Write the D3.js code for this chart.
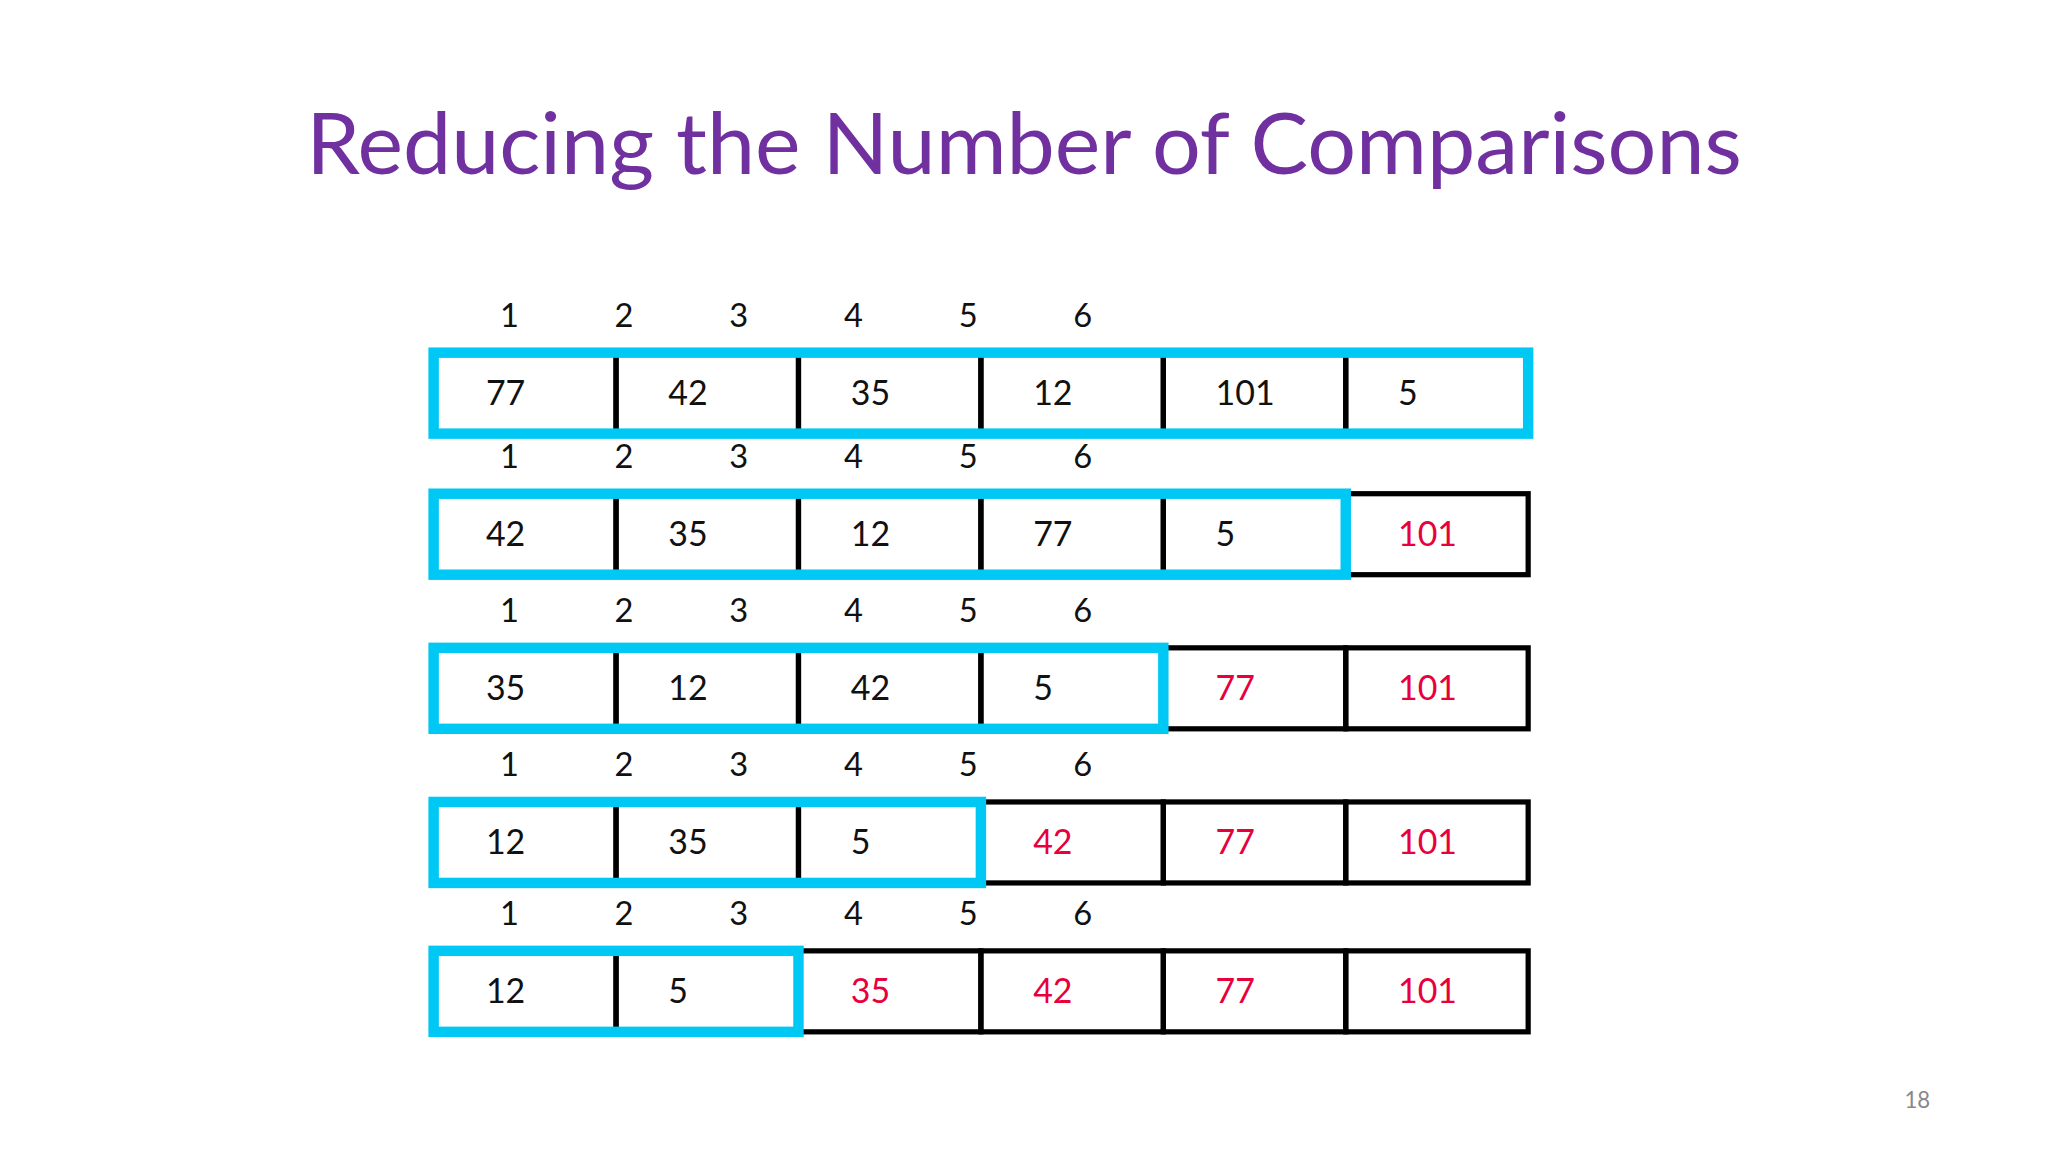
<!DOCTYPE html>
<html><head><meta charset="utf-8">
<script src="https://cdn.jsdelivr.net/npm/d3@7"></script>
<style>body{margin:0;background:#fff}</style>
</head><body>
<script>
const rows = [
  [77, 42, 35, 12, 101, 5],
  [42, 35, 12, 77, 5, 101],
  [35, 12, 42, 5, 77, 101],
  [12, 35, 5, 42, 77, 101],
  [12, 5, 35, 42, 77, 101]
];
const activeCounts = [6, 5, 4, 3, 2];
const indexLabels = [1, 2, 3, 4, 5, 6];
const rowTops = [270, 378, 496, 614, 728];

const svg = d3.select("body").append("svg")
  .attr("width", 2048).attr("height", 1152)
  .attr("viewBox", "0 0 1568 882")
  .style("font-family", "Lato, 'Open Sans', sans-serif");

svg.append("text").attr("x", 784).attr("y", 133).attr("text-anchor", "middle")
  .attr("font-size", 66).attr("fill", "#7030A0").text("Reducing the Number of Comparisons");
svg.append("text").attr("x", 1468).attr("y", 848).attr("text-anchor", "middle")
  .attr("font-size", 17).attr("fill", "#888").text("18");

const x = d3.scaleBand().domain(d3.range(6)).range([332, 1170]).padding(0);
const idxX = d3.scaleLinear().domain([1, 6]).range([390, 829]);
const h = 62;

rows.forEach((vals, r) => {
  const g = svg.append("g");
  const top = rowTops[r];
  g.selectAll("text.idx").data(indexLabels).join("text")
    .attr("x", d => idxX(d)).attr("y", top - 20).attr("text-anchor", "middle")
    .attr("font-size", 25).attr("fill", "#111").text(d => d);
  g.selectAll("rect.cell").data(vals).join("rect")
    .attr("x", (d, i) => x(i)).attr("y", top).attr("width", x.bandwidth()).attr("height", h)
    .attr("fill", "none").attr("stroke", "#000").attr("stroke-width", 4);
  g.selectAll("text.val").data(vals).join("text")
    .attr("x", (d, i) => x(i) + 40).attr("y", top + h / 2 + 9)
    .attr("font-size", 26)
    .attr("fill", (d, i) => i < activeCounts[r] ? "#111" : "#E8003C").text(d => d);
  g.append("rect").attr("x", x(0)).attr("y", top)
    .attr("width", x.bandwidth() * activeCounts[r]).attr("height", h)
    .attr("fill", "none").attr("stroke", "#00C8F5").attr("stroke-width", 8);
});
</script>
</body></html>
